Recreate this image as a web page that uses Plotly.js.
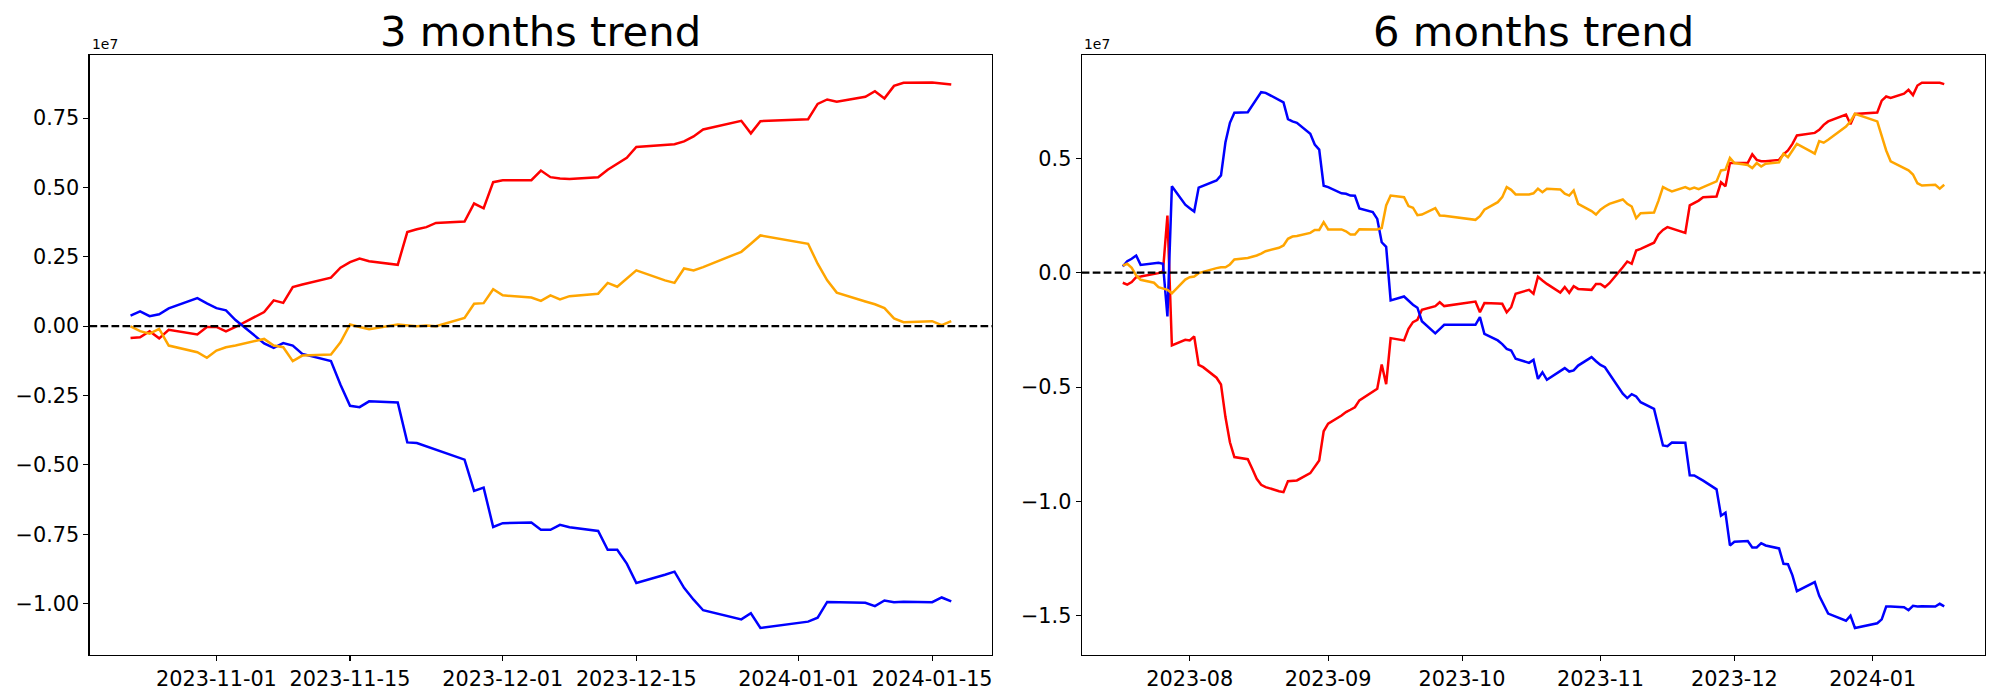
<!DOCTYPE html>
<html>
<head>
<meta charset="utf-8">
<script src="https://cdn.plot.ly/plotly-3.0.1.min.js"></script>
<style>html,body{margin:0;padding:0;background:#fff;}#chart{width:2000px;height:700px;}</style>
</head>
<body>
<div id="chart"></div>
<script>
// values are in units of 1e7 (the axis offset label shown on the chart)
const dates3m = [
 "2023-10-23","2023-10-24","2023-10-25","2023-10-26","2023-10-27","2023-10-30","2023-10-31",
 "2023-11-01","2023-11-02","2023-11-03","2023-11-06","2023-11-07","2023-11-08","2023-11-09","2023-11-10",
 "2023-11-13","2023-11-14","2023-11-15","2023-11-16","2023-11-17","2023-11-20","2023-11-21","2023-11-22",
 "2023-11-23","2023-11-24","2023-11-27","2023-11-28","2023-11-29","2023-11-30",
 "2023-12-01","2023-12-04","2023-12-05","2023-12-06","2023-12-07","2023-12-08","2023-12-11","2023-12-12",
 "2023-12-13","2023-12-14","2023-12-15","2023-12-18","2023-12-19","2023-12-20","2023-12-21","2023-12-22",
 "2023-12-26","2023-12-27","2023-12-28",
 "2024-01-02","2024-01-03","2024-01-04","2024-01-05","2024-01-08","2024-01-09","2024-01-10","2024-01-11",
 "2024-01-12","2024-01-15","2024-01-16","2024-01-17"];
const red3m = [
 -0.043,-0.040,-0.018,-0.044,-0.013,-0.030,-0.003,
 -0.003,-0.019,-0.003,0.051,0.093,0.084,0.141,0.150,
 0.175,0.211,0.231,0.244,0.234,0.221,0.339,0.349,
 0.357,0.372,0.377,0.442,0.425,0.519,
 0.526,0.526,0.561,0.537,0.532,0.530,0.537,0.564,
 0.584,0.607,0.646,0.652,0.656,0.666,0.684,0.709,
 0.740,0.695,0.739,
 0.746,0.801,0.817,0.809,0.827,0.847,0.821,0.866,
 0.877,0.878,0.875,0.871];
const blue3m = [
 0.038,0.053,0.036,0.043,0.064,0.101,0.082,
 0.065,0.057,0.022,-0.062,-0.078,-0.061,-0.070,-0.100,
 -0.126,-0.211,-0.287,-0.292,-0.271,-0.275,-0.419,-0.421,
 -0.433,-0.445,-0.481,-0.594,-0.582,-0.724,
 -0.710,-0.708,-0.734,-0.734,-0.716,-0.725,-0.738,-0.806,
 -0.806,-0.856,-0.926,-0.896,-0.885,-0.943,-0.986,-1.024,
 -1.057,-1.035,-1.088,
 -1.065,-1.051,-0.994,-0.995,-0.997,-1.009,-0.989,-0.995,
 -0.993,-0.995,-0.978,-0.992];
const orange3m = [
 -0.001,-0.018,-0.027,-0.010,-0.070,-0.094,-0.114,
 -0.088,-0.076,-0.070,-0.046,-0.070,-0.076,-0.126,-0.106,
 -0.102,-0.058,0.006,-0.003,-0.011,0.006,0.004,0.000,
 0.002,0.000,0.030,0.081,0.083,0.133,
 0.111,0.103,0.091,0.111,0.096,0.108,0.117,0.156,
 0.142,0.171,0.201,0.165,0.156,0.208,0.201,0.213,
 0.268,0.297,0.327,
 0.297,0.225,0.165,0.121,0.089,0.079,0.065,0.028,
 0.014,0.018,0.004,0.018];

const dates6m = [
 "2023-07-17","2023-07-18","2023-07-19","2023-07-20","2023-07-21",
 "2023-07-24","2023-07-25","2023-07-26","2023-07-27","2023-07-28","2023-07-31",
 "2023-08-01","2023-08-02","2023-08-03","2023-08-04",
 "2023-08-07","2023-08-08","2023-08-09","2023-08-10","2023-08-11",
 "2023-08-14","2023-08-15","2023-08-16","2023-08-17","2023-08-18",
 "2023-08-21","2023-08-22","2023-08-23","2023-08-24","2023-08-25",
 "2023-08-28","2023-08-29","2023-08-30","2023-08-31","2023-09-01",
 "2023-09-04","2023-09-05","2023-09-06","2023-09-07","2023-09-08",
 "2023-09-11","2023-09-12","2023-09-13","2023-09-14","2023-09-15",
 "2023-09-18","2023-09-19","2023-09-20","2023-09-21","2023-09-22",
 "2023-09-25","2023-09-26","2023-09-27",
 "2023-10-04","2023-10-05","2023-10-06",
 "2023-10-09","2023-10-10","2023-10-11","2023-10-12","2023-10-13",
 "2023-10-16","2023-10-17","2023-10-18","2023-10-19","2023-10-20",
 "2023-10-23","2023-10-24","2023-10-25","2023-10-26","2023-10-27",
 "2023-10-30","2023-10-31","2023-11-01","2023-11-02","2023-11-03",
 "2023-11-06","2023-11-07","2023-11-08","2023-11-09","2023-11-10",
 "2023-11-13","2023-11-14","2023-11-15","2023-11-16","2023-11-17",
 "2023-11-20","2023-11-21","2023-11-22","2023-11-23","2023-11-24",
 "2023-11-27","2023-11-28","2023-11-29","2023-11-30","2023-12-01",
 "2023-12-04","2023-12-05","2023-12-06","2023-12-07","2023-12-08",
 "2023-12-11","2023-12-12","2023-12-13","2023-12-14","2023-12-15",
 "2023-12-18","2023-12-19","2023-12-20","2023-12-21","2023-12-22",
 "2023-12-26","2023-12-27","2023-12-28",
 "2024-01-02","2024-01-03","2024-01-04","2024-01-05",
 "2024-01-08","2024-01-09","2024-01-10","2024-01-11","2024-01-12",
 "2024-01-15","2024-01-16","2024-01-17"];
const red6m = [
 -0.044,-0.052,-0.041,-0.020,-0.017,
 -0.008,-0.002,0.005,0.250,-0.318,-0.293,
 -0.296,-0.279,-0.403,-0.413,
 -0.459,-0.489,-0.631,-0.741,-0.806,
 -0.815,-0.857,-0.901,-0.927,-0.937,
 -0.955,-0.959,-0.911,-0.911,-0.908,
 -0.876,-0.850,-0.821,-0.693,-0.660,
 -0.624,-0.609,-0.599,-0.588,-0.558,
 -0.518,-0.507,-0.401,-0.487,-0.286,
 -0.296,-0.245,-0.216,-0.206,-0.162,
 -0.146,-0.129,-0.146,
 -0.126,-0.173,-0.133,
 -0.135,-0.136,-0.173,-0.151,-0.092,
 -0.075,-0.092,-0.018,-0.034,-0.049,
 -0.087,-0.063,-0.088,-0.059,-0.071,
 -0.075,-0.049,-0.049,-0.063,-0.046,
 0.024,0.049,0.039,0.097,0.104,
 0.131,0.167,0.187,0.199,0.192,
 0.174,0.294,0.305,0.315,0.330,
 0.333,0.395,0.378,0.479,0.480,
 0.480,0.517,0.493,0.487,0.487,
 0.493,0.517,0.534,0.563,0.600,
 0.610,0.611,0.624,0.646,0.661,
 0.691,0.649,0.694,
 0.700,0.752,0.770,0.764,
 0.782,0.799,0.776,0.818,0.830,
 0.831,0.830,0.824];
const blue6m = [
 0.027,0.050,0.061,0.075,0.034,
 0.043,0.043,0.039,-0.191,0.378,0.297,
 0.282,0.267,0.372,0.380,
 0.403,0.425,0.570,0.655,0.699,
 0.701,0.732,0.762,0.789,0.786,
 0.756,0.744,0.671,0.661,0.655,
 0.607,0.560,0.538,0.380,0.374,
 0.347,0.345,0.337,0.336,0.281,
 0.265,0.235,0.133,0.113,-0.121,
 -0.104,-0.122,-0.140,-0.153,-0.212,
 -0.265,-0.246,-0.228,
 -0.228,-0.194,-0.267,
 -0.296,-0.312,-0.333,-0.340,-0.376,
 -0.394,-0.381,-0.464,-0.435,-0.468,
 -0.429,-0.417,-0.432,-0.427,-0.406,
 -0.369,-0.387,-0.403,-0.413,-0.442,
 -0.529,-0.548,-0.531,-0.541,-0.566,
 -0.595,-0.678,-0.755,-0.758,-0.742,
 -0.743,-0.885,-0.886,-0.896,-0.909,
 -0.947,-1.062,-1.049,-1.192,-1.176,
 -1.173,-1.201,-1.201,-1.182,-1.192,
 -1.205,-1.272,-1.274,-1.323,-1.392,
 -1.362,-1.352,-1.412,-1.454,-1.490,
 -1.521,-1.499,-1.553,
 -1.532,-1.515,-1.459,-1.459,
 -1.462,-1.475,-1.456,-1.459,-1.458,
 -1.459,-1.447,-1.458];
const orange6m = [
 0.031,0.039,0.021,-0.012,-0.031,
 -0.044,-0.063,-0.069,-0.075,-0.090,-0.030,
 -0.020,-0.017,-0.002,0.004,
 0.020,0.024,0.024,0.036,0.058,
 0.064,0.068,0.075,0.083,0.094,
 0.109,0.119,0.148,0.158,0.160,
 0.174,0.187,0.187,0.221,0.189,
 0.189,0.181,0.167,0.167,0.190,
 0.190,0.189,0.195,0.294,0.337,
 0.330,0.291,0.284,0.251,0.254,
 0.282,0.250,0.249,
 0.231,0.247,0.275,
 0.308,0.330,0.374,0.362,0.342,
 0.342,0.347,0.367,0.352,0.367,
 0.364,0.345,0.337,0.359,0.301,
 0.269,0.254,0.275,0.289,0.301,
 0.320,0.301,0.289,0.238,0.260,
 0.263,0.315,0.374,0.364,0.355,
 0.374,0.365,0.372,0.365,0.374,
 0.399,0.447,0.450,0.502,0.479,
 0.471,0.457,0.479,0.464,0.476,
 0.482,0.520,0.505,0.534,0.563,
 0.531,0.520,0.575,0.568,0.581,
 0.639,0.661,0.694,
 0.661,0.592,0.534,0.487,
 0.458,0.447,0.429,0.391,0.381,
 0.384,0.367,0.384];

const yTicks3m = [-1.0,-0.75,-0.5,-0.25,0,0.25,0.5,0.75];
const yTicks6m = [-1.5,-1.0,-0.5,0,0.5];
const xTicks3m = ["2023-11-01","2023-11-15","2023-12-01","2023-12-15","2024-01-01","2024-01-15"];
const xTicks6m = ["2023-08-01","2023-09-01","2023-10-01","2023-11-01","2023-12-01","2024-01-01"];
const titles = ["3 months trend","6 months trend"];

const FONT = "DejaVu Sans, Liberation Sans, sans-serif";
const C = {red:"#ff0000", blue:"#0000ff", orange:"#ffa500"};

function tr(x, y, color, xa, ya){
  return {x:x, y:y, type:"scatter", mode:"lines", xaxis:xa, yaxis:ya,
          line:{color:color, width:2.5}, showlegend:false, hoverinfo:"x+y"};
}
const data = [
  tr(dates3m, red3m, C.red, "x", "y"),
  tr(dates3m, blue3m, C.blue, "x", "y"),
  tr(dates3m, orange3m, C.orange, "x", "y"),
  tr(dates6m, red6m, C.red, "x2", "y2"),
  tr(dates6m, blue6m, C.blue, "x2", "y2"),
  tr(dates6m, orange6m, C.orange, "x2", "y2")
];

const axCommon = {
  showgrid:false, zeroline:false, showline:true, mirror:true,
  linecolor:"#000", linewidth:1.1, ticks:"outside", ticklen:5, tickwidth:1.1,
  tickcolor:"#000", tickfont:{family:FONT, size:20.8, color:"#000"}, fixedrange:true
};
const layout = {
  width:2000, height:700, autosize:false,
  margin:{l:0, r:0, t:0, b:0},
  paper_bgcolor:"#fff", plot_bgcolor:"#fff",
  font:{family:FONT, color:"#000"},
  xaxis: Object.assign({}, axCommon, {domain:[0.04475,0.49615], type:"date",
     range:["2023-10-18 16:48","2024-01-21 07:12"], tickmode:"array", tickvals:xTicks3m,
     ticktext:xTicks3m, anchor:"y"}),
  yaxis: Object.assign({}, axCommon, {domain:[0.0639,0.921], range:[-1.1863,0.9763],
     tickmode:"array", tickvals:yTicks3m, tickformat:".2f", anchor:"x"}),
  xaxis2: Object.assign({}, axCommon, {domain:[0.54085,0.99265], type:"date",
     range:["2023-07-07 19:12","2024-01-26 04:48"], tickmode:"array", tickvals:xTicks6m,
     ticktext:xTicks6m.map(d=>d.slice(0,7)), anchor:"y2"}),
  yaxis2: Object.assign({}, axCommon, {domain:[0.0639,0.921], range:[-1.672,0.950],
     tickmode:"array", tickvals:yTicks6m, tickformat:".1f", anchor:"x2"}),
  shapes:[
    {type:"line", xref:"x domain", yref:"y", x0:0, x1:1, y0:0, y1:0,
     line:{color:"#000", width:2.2, dash:"7.7px,3.3px"}},
    {type:"line", xref:"x2 domain", yref:"y2", x0:0, x1:1, y0:0, y1:0,
     line:{color:"#000", width:2.2, dash:"7.7px,3.3px"}}
  ],
  annotations:[
    {text:titles[0], xref:"paper", yref:"paper", x:0.27045, y:0.9543, xanchor:"center", yanchor:"middle",
     showarrow:false, font:{family:FONT, size:41.7, color:"#000"}},
    {text:titles[1], xref:"paper", yref:"paper", x:0.76675, y:0.9543, xanchor:"center", yanchor:"middle",
     showarrow:false, font:{family:FONT, size:41.7, color:"#000"}},
    {text:"1e7", xref:"paper", yref:"paper", x:0.0448, y:0.9229, xanchor:"left", yanchor:"bottom",
     showarrow:false, font:{family:FONT, size:13.9, color:"#000"}},
    {text:"1e7", xref:"paper", yref:"paper", x:0.5411, y:0.9229, xanchor:"left", yanchor:"bottom",
     showarrow:false, font:{family:FONT, size:13.9, color:"#000"}}
  ]
};
Plotly.newPlot("chart", data, layout, {displayModeBar:false, staticPlot:true});
</script>
</body>
</html>
